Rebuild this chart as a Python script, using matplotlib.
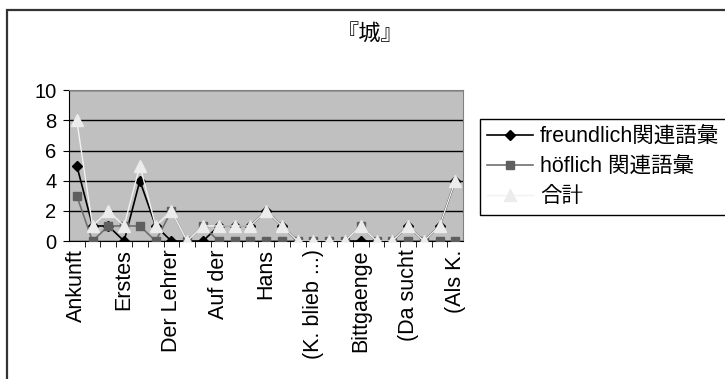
import matplotlib.pyplot as plt
from matplotlib.patches import Rectangle
from matplotlib.ticker import MultipleLocator

plt.rcParams['font.family'] = ['Liberation Sans', 'Noto Sans CJK JP', 'DejaVu Sans']

# 25 sections of the novel; only every third label is shown on the axis
n_sections = 25
shown_labels = ["Ankunft", "Erstes", "Der Lehrer", "Auf der", "Hans",
                "(K. blieb ...)", "Bittgaenge", "(Da sucht", "(Als K."]

freundlich = [5, 1, 1, 0, 4, 1, 0, 0, 0, 1, 1, 1, 2, 1, 0, 0, 0, 0, 0, 0, 0, 1, 0, 1, 4]
hoeflich = [3, 0, 1, 1, 1, 0, 2, 0, 1, 0, 0, 0, 0, 0, 0, 0, 0, 0, 1, 0, 0, 0, 0, 0, 0]
gesamt = [f + h for f, h in zip(freundlich, hoeflich)]

x = list(range(n_sections))

fig = plt.figure(figsize=(7.25, 3.79), dpi=100)
ax = fig.add_axes([0.095, 0.364, 0.544, 0.398])
ax.set_facecolor('#c0c0c0')

ax.plot(x, freundlich, color='black', lw=1.2, marker='D', ms=5.5,
        label='freundlich関連語彙', zorder=3)
ax.plot(x, hoeflich, color='#707070', lw=1.2, marker='s', ms=6,
        mfc='#5f5f5f', mec='#5f5f5f', label='höflich 関連語彙', zorder=4)
ax.plot(x, gesamt, color='#f2f2f2', lw=1.0, marker='^', ms=8,
        mfc='#ececec', mec='#ececec', label='合計', zorder=5)

ax.set_xlim(-0.5, n_sections - 0.5)
ax.set_ylim(0, 10)
ax.yaxis.set_major_locator(MultipleLocator(2))
ax.grid(axis='y', color='black', lw=1.0, zorder=1)
ax.set_axisbelow(True)

ax.set_xticks(x[::3])
ax.set_xticklabels(shown_labels, rotation=90, fontsize=15.5)
ax.set_xticks([i - 0.5 for i in range(1, n_sections)], minor=True)
ax.tick_params(axis='x', which='major', length=0, pad=6)
ax.tick_params(axis='x', which='minor', length=4, direction='out', color='black')
ax.tick_params(axis='y', labelsize=14.5, length=4, direction='out', pad=5)

for side in ['top', 'right']:
    ax.spines[side].set_color('#808080')
ax.spines['left'].set_color('black')
ax.spines['bottom'].set_color('black')

fig.text(0.51, 0.908, '『城』', ha='center', va='center', fontsize=16)

leg = fig.legend(loc='upper left', bbox_to_anchor=(0.662, 0.687), fontsize=15.5,
                 fancybox=False, edgecolor='black', framealpha=1,
                 handlelength=2.1, borderpad=0.35, labelspacing=0.42,
                 handletextpad=0.35, borderaxespad=0)
leg.get_frame().set_linewidth(1.0)

# outer chart border
fig.patches.append(Rectangle((0.0095, -0.1), 1.1, 1.074, transform=fig.transFigure,
                             fill=False, edgecolor='#333333', lw=1.6))

fig.savefig('out.png', dpi=100)
